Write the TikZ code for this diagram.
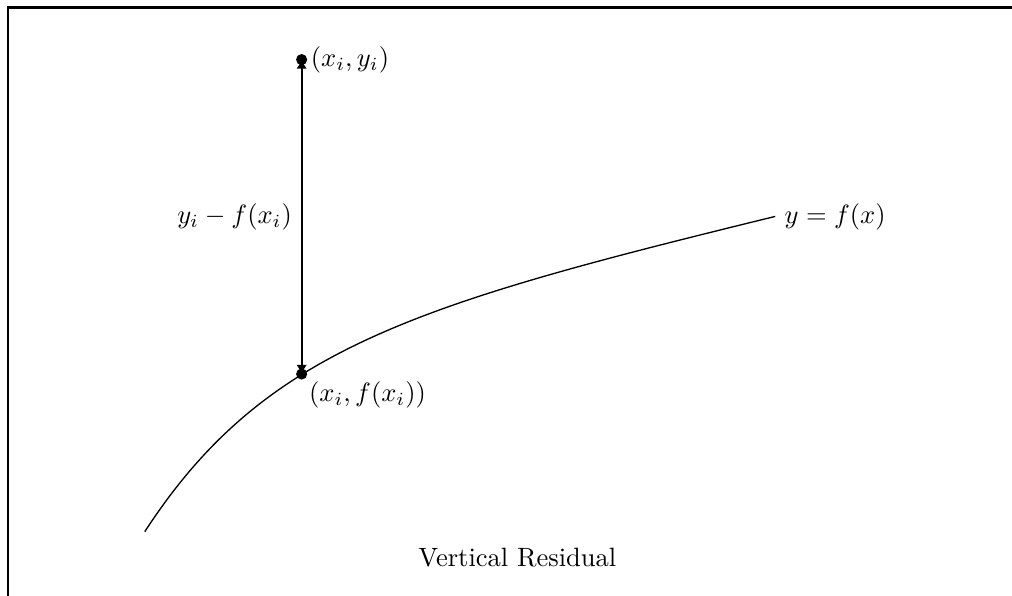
\documentclass[tikz,border=0pt]{standalone}
\usepackage{tikz}
\usetikzlibrary{arrows.meta,positioning}
\tikzset{
  datapt/.style={circle,fill=black,inner sep=0pt,minimum size=4.2pt},
  curve/.style={line width=0.5pt},
  resid/.style={{Latex[length=1.2mm,width=1.4mm]}-{Latex[length=1.2mm,width=1.4mm]},line width=0.7pt},
  frame/.style={line width=1.1pt},
}
\begin{document}
\begin{tikzpicture}
  \useasboundingbox (0,0) rectangle (13.42,7.90);
  \draw[frame] (0.106,-0.2) -- (0.106,7.80) -- (13.6,7.80);

  \coordinate (cstart) at (1.92,0.85);
  \coordinate (cend) at (10.28,5.03);
  \draw[curve] (cstart) .. controls (3.5,3.28) and (5.5,3.86) .. (cend) node[right] (curvelbl) {$y = f(x)$};

  \node[datapt] (obs) at (4.00,7.11) {};
  \node[datapt] (fit) at (4.00,2.94) {};
  \draw[resid] (obs.center) -- (fit.center) node[midway,left] (residlbl) {$y_i - f(x_i)$};

  \node[right=0pt of obs,inner sep=1pt] (obslbl) {$(x_i, y_i)$};
  \node[below right=0pt of fit,inner sep=1pt] (fitlbl) {$(x_i, f(x_i))$};

  \node (caption) at (6.86,0.51) {Vertical Residual};
\end{tikzpicture}
\end{document}
